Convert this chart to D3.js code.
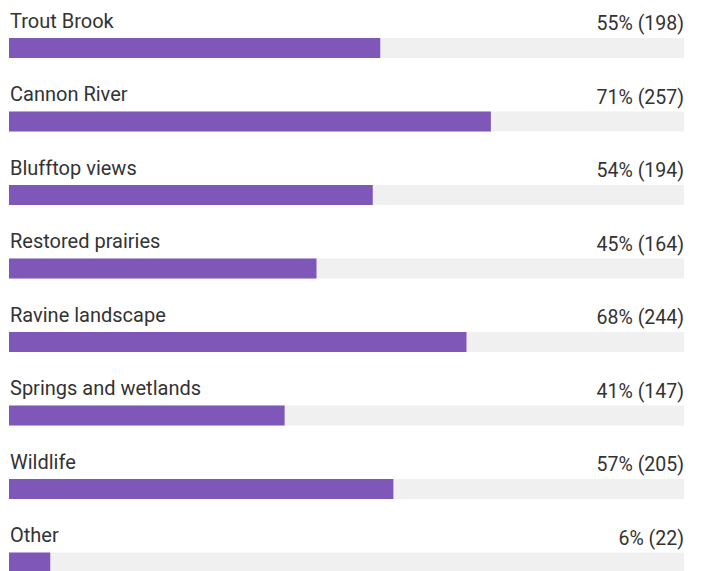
<!DOCTYPE html>
<html>
<head>
<meta charset="utf-8">
<title>bars</title>
<script src="https://cdn.jsdelivr.net/npm/d3@7"></script>
<style>
body{margin:0;background:#fff;}
text{font-family:Roboto, Arial, sans-serif;fill:#333;}
</style>
</head>
<body>
<script>
var categories=["Trout Brook","Cannon River","Blufftop views","Restored prairies","Ravine landscape","Springs and wetlands","Wildlife","Other"];
var percents=[55,71,54,45,68,41,57,6];
var counts=[198,257,194,164,244,147,205,22];
var respondents=360;	//total answering, bars are count/respondents

var width=701,height=571,
	left=9,right=684,
	top0=38,step=73.5,barH=20;

var svg=d3.select("body").append("svg")
	.attr("width",width)
	.attr("height",height);

var x=d3.scaleLinear().domain([0,respondents]).range([left,right]);
var y=d3.scaleLinear().domain([0,1]).range([top0,top0+step]);

var rows=svg.selectAll(".row")
	.data(categories)
	.enter()
	.append("g")
	.attr("class","row")
	.attr("transform",function(d,i){return "translate(0,"+y(i)+")";});

// grey track
rows.append("rect")
	.attr("x",x(0))
	.attr("y",0)
	.attr("width",x(respondents)-x(0))
	.attr("height",barH)
	.attr("fill","#f0f0f0");

rows.append("rect")
	.attr("x",x(0))
	.attr("y",0)
	.attr("width",function(d,i){return x(counts[i])-x(0);})
	.attr("height",barH)
	.attr("fill","#7e57b8");

rows.append("text")
	.attr("x",10)
	.attr("y",-10.5)
	.attr("font-size","20px")
	.text(function(d){return d;});

rows.append("text")
	.attr("x",right)
	.attr("y",-8)
	.attr("text-anchor","end")
	.attr("font-size","19.5px")
	.text(function(d,i){return percents[i]+"% ("+counts[i]+")";});
</script>
</body>
</html>
